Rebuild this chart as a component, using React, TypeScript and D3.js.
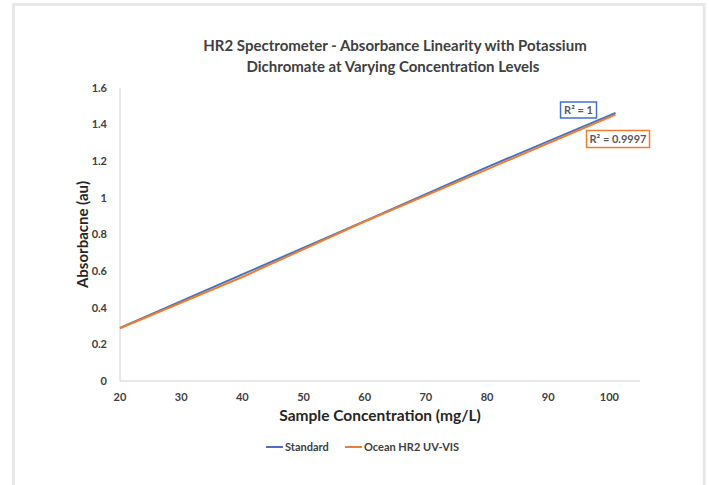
import * as d3 from 'd3';

const width = 709;
const height = 485;
const margin = { top: 88, left: 120, bottom: 104, right: 69 };

const concentrations = [20, 40, 60, 80, 101];
const standardValues = [0.29, 0.582, 0.873, 1.168, 1.464];
const oceanValues = [0.288, 0.568, 0.871, 1.156, 1.455];
const xTicks = [20, 30, 40, 50, 60, 70, 80, 90, 100];
const yTicks = [0, 0.2, 0.4, 0.6, 0.8, 1, 1.2, 1.4, 1.6];
const seriesNames = ['Standard', 'Ocean HR2 UV-VIS'];
const rSquared = ['R² = 1', 'R² = 0.9997'];

const colors = ['#4472C4', '#ED7D31'];
const font = 'Lato, "Open Sans", sans-serif';
const textColor = '#404040';

function App() {
  const x = d3.scaleLinear().domain([20, 105]).range([margin.left, width - margin.right]);
  const y = d3.scaleLinear().domain([0, 1.6]).range([height - margin.bottom, margin.top]);

  const line = d3
    .line<number>()
    .x((_, i) => x(concentrations[i]))
    .y((d) => y(d));

  const series = [standardValues, oceanValues];
  const lastX = x(concentrations[concentrations.length - 1]);

  return (
    <svg
      width={width}
      height={height}
      style={{ position: 'absolute', left: 0, top: 0, fontFamily: font }}
    >
      <rect x={0} y={0} width={width} height={height} fill="#fff" />
      <rect x={13.5} y={4.5} width={690.7} height={520} fill="#fff" stroke="#e8e8e8" strokeWidth={3} />

      <text x={395} y={51} textAnchor="middle" fontSize={15} fontWeight="bold" fill={textColor}>
        HR2 Spectrometer - Absorbance Linearity with Potassium
      </text>
      <text x={393} y={72} textAnchor="middle" fontSize={15} fontWeight="bold" fill={textColor}>
        Dichromate at Varying Concentration Levels
      </text>

      {/* axes */}
      <line x1={x(20)} x2={x(105)} y1={y(0)} y2={y(0)} stroke="#d0d0d0" strokeWidth={1} />
      <line x1={x(20)} x2={x(20)} y1={y(0)} y2={y(1.6)} stroke="#d0d0d0" strokeWidth={1} />

      {yTicks.map((t) => (
        <text
          key={t}
          x={107}
          y={y(t)}
          dy="0.35em"
          textAnchor="end"
          fontSize={11}
          fontWeight="bold"
          fill={textColor}
        >
          {d3.format('~g')(t)}
        </text>
      ))}
      {xTicks.map((t) => (
        <text
          key={t}
          x={x(t)}
          y={401}
          textAnchor="middle"
          fontSize={11}
          fontWeight="bold"
          fill={textColor}
        >
          {t}
        </text>
      ))}

      <text x={380} y={421} textAnchor="middle" fontSize={15.5} fontWeight="bold" fill="#262626">
        Sample Concentration (mg/L)
      </text>
      <text
        transform={`translate(88, ${y(0.8)}) rotate(-90)`}
        textAnchor="middle"
        fontSize={15}
        fontWeight="bold"
        fill="#262626"
      >
        Absorbacne (au)
      </text>

      {series.map((vals, i) => (
        <path key={i} d={line(vals) || ''} fill="none" stroke={colors[i]} strokeWidth={2} />
      ))}

      {/* R² labels */}
      <rect x={lastX - 55} y={102} width={36} height={16} fill="#fff" stroke={colors[0]} strokeWidth={1.5} />
      <text x={lastX - 37} y={114} textAnchor="middle" fontSize={11} fontWeight="bold" fill="#595959">
        {rSquared[0]}
      </text>
      <rect x={lastX - 29} y={130.5} width={63} height={17} fill="#fff" stroke={colors[1]} strokeWidth={1.5} />
      <text x={lastX + 2.5} y={143} textAnchor="middle" fontSize={11} fontWeight="bold" fill="#595959">
        {rSquared[1]}
      </text>

      {/* legend */}
      {seriesNames.map((name, i) => {
        const lx = i === 0 ? 266 : 345;
        return (
          <g key={name}>
            <line x1={lx} x2={lx + 17} y1={447} y2={447} stroke={colors[i]} strokeWidth={2} />
            <text x={lx + 19} y={447} dy="0.35em" fontSize={11} fontWeight="bold" fill={textColor}>
              {name}
            </text>
          </g>
        );
      })}
    </svg>
  );
}

export default App;
